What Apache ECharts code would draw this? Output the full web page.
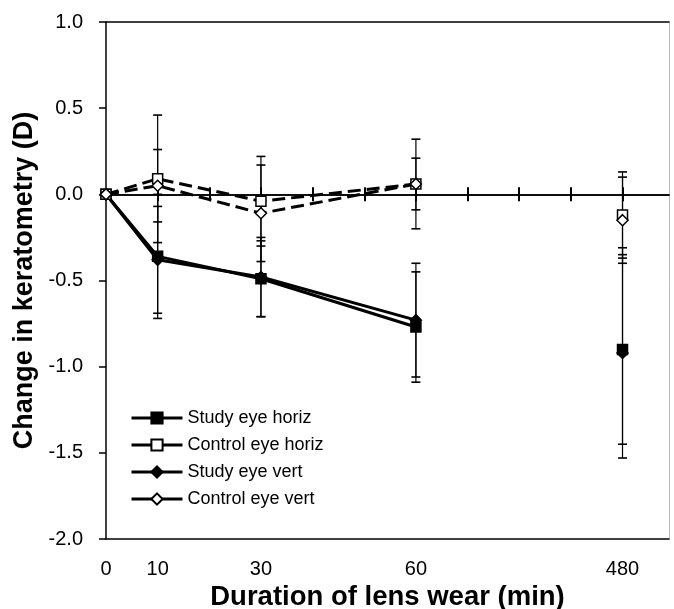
<!DOCTYPE html>
<html><head><meta charset="utf-8">
<script src="https://cdn.jsdelivr.net/npm/echarts@6/dist/echarts.min.js"></script>
<style>html,body{margin:0;padding:0;background:#fff}#c{width:674px;height:609px}</style>
</head><body><div id="c"></div><script>
// Axis slots (broken time axis): one slot per 10 min up to 60, then a break to 480
const slots = ['0','10','20','30','40','50','60','','','','480'];
// Measured times
const times = ['0','10','30','60','480'];
// The line is not drawn across the axis break after this time
const breakAfter = '60';
// Series values (D) and standard deviations
const studyHoriz     = [0, -0.36, -0.49, -0.77, -0.90];
const studyHorizSD   = [0,  0.36,  0.22,  0.32,  0.55];
const controlHoriz   = [0,  0.09, -0.04,  0.06, -0.12];
const controlHorizSD = [0,  0.37,  0.26,  0.26,  0.25];
const studyVert      = [0, -0.38, -0.48, -0.73, -0.92];
const studyVertSD    = [0,  0.31,  0.23,  0.33,  0.61];
const controlVert    = [0,  0.05, -0.11,  0.06, -0.15];
const controlVertSD  = [0,  0.21,  0.28,  0.15,  0.25];
const seriesNames = ['Study eye horiz','Control eye horiz','Study eye vert','Control eye vert'];

const FONT = '"Liberation Sans", Arial, Helvetica, sans-serif';
const xIdx = times.map(t => slots.indexOf(t));
const tickIdx = slots.map((_, i) => i).filter(i => i > 0);
const XMAX = 10.9;

function pts(vals){
  const out = [];
  vals.forEach((v,i)=>{
    out.push([xIdx[i], v]);
    if (times[i] === breakAfter) out.push(['-', '-']);
  });
  return out;
}
function errData(vals, sds){ return vals.map((v,i)=>[xIdx[i], v, sds[i]]); }

function errSeries(vals, sds){
  return {
    type:'custom', z:1, silent:true, encode:{x:0,y:1},
    data: errData(vals, sds),
    renderItem(params, api){
      const x = api.value(0), m = api.value(1), s = api.value(2);
      if (!s) return null;
      const t = api.coord([x, m + s]), b = api.coord([x, m - s]);
      const hw = 4.5;
      const st = {stroke:'#000', lineWidth:1.2};
      const sc = {stroke:'#000', lineWidth:1.6};
      return {type:'group', children:[
        {type:'line', shape:{x1:t[0],y1:t[1],x2:b[0],y2:b[1]}, style:st},
        {type:'line', shape:{x1:t[0]-hw,y1:t[1],x2:t[0]+hw,y2:t[1]}, style:sc},
        {type:'line', shape:{x1:b[0]-hw,y1:b[1],x2:b[0]+hw,y2:b[1]}, style:sc}
      ]};
    }
  };
}

function lineSeries(name, vals, symbol, filled, dashed){
  return {
    name, type:'line', z:3, data: pts(vals), connectNulls:false,
    symbol, symbolSize: symbol==='rect' ? 10 : 11, showSymbol:true,
    lineStyle:{color:'#000', width:3, type: dashed ? [13,6] : 'solid'},
    itemStyle:{color: filled ? '#000' : '#fff', borderColor:'#000', borderWidth:1.5, opacity:1},
    emphasis:{disabled:true}
  };
}

const baseX = {type:'value', min:0, max:XMAX, splitLine:{show:false}};
const chart = echarts.init(document.getElementById('c'));
chart.setOption({
  animation:false,
  backgroundColor:'#fff',
  textStyle:{fontFamily:FONT, color:'#000'},
  grid:{left:106, right:5, top:22, bottom:70, containLabel:false, outerBoundsMode:'none'},
  legend:{
    orient:'vertical', left:130, top:409, padding:0, itemWidth:51, itemHeight:14, itemGap:9,
    data:seriesNames, selectedMode:false,
    textStyle:{fontSize:18, color:'#000', fontFamily:FONT},
    lineStyle:{type:'solid', width:3}
  },
  xAxis:[
    Object.assign({}, baseX, {
      position:'bottom',
      axisLine:{onZero:false, lineStyle:{color:'#000', width:1.5}},
      axisTick:{show:false},
      axisLabel:{customValues:xIdx, formatter:v=>slots[Math.round(v)], fontSize:20, color:'#000', margin:20, fontFamily:FONT},
      name:'Duration of lens wear (min)', nameLocation:'middle', nameGap:36,
      nameTextStyle:{fontSize:27.5, fontWeight:'bold', color:'#000', fontFamily:FONT}
    }),
    Object.assign({}, baseX, {
      position:'top',
      axisLine:{onZero:false, lineStyle:{color:'#000', width:1.5}},
      axisTick:{show:false}, axisLabel:{show:false}
    }),
    Object.assign({}, baseX, {
      position:'top',
      axisLine:{onZero:true, onZeroAxisIndex:0, lineStyle:{color:'#000', width:1.5}},
      axisTick:{show:true, length:7, customValues:tickIdx, lineStyle:{color:'#000', width:2}},
      axisLabel:{show:false}
    }),
    Object.assign({}, baseX, {
      position:'bottom',
      axisLine:{onZero:true, onZeroAxisIndex:0, lineStyle:{color:'#000', width:1.5}},
      axisTick:{show:true, length:7, customValues:tickIdx, lineStyle:{color:'#000', width:2}},
      axisLabel:{show:false}
    })
  ],
  yAxis:[
    {
      type:'value', min:-2, max:1, interval:0.5, position:'left',
      axisLine:{show:true, onZero:false, lineStyle:{color:'#000', width:1.5}},
      axisTick:{show:true, length:7, lineStyle:{color:'#000', width:1.5}},
      splitLine:{show:false},
      axisLabel:{formatter:v=>v.toFixed(1), fontSize:20, color:'#000', margin:23, fontFamily:FONT},
      name:'Change in keratometry (D)', nameLocation:'middle', nameGap:62,
      nameTextStyle:{fontSize:27, fontWeight:'bold', color:'#000', fontFamily:FONT}
    },
    {
      type:'value', min:-2, max:1, position:'right',
      axisLine:{show:true, onZero:false, lineStyle:{color:'#bbb', width:1}},
      axisTick:{show:false}, axisLabel:{show:false}, splitLine:{show:false}
    }
  ],
  series:[
    errSeries(studyHoriz, studyHorizSD),
    errSeries(controlHoriz, controlHorizSD),
    errSeries(studyVert, studyVertSD),
    errSeries(controlVert, controlVertSD),
    lineSeries(seriesNames[0], studyHoriz, 'rect', true, false),
    lineSeries(seriesNames[1], controlHoriz, 'rect', false, true),
    lineSeries(seriesNames[2], studyVert, 'diamond', true, false),
    lineSeries(seriesNames[3], controlVert, 'diamond', false, true)
  ]
});
</script></body></html>
